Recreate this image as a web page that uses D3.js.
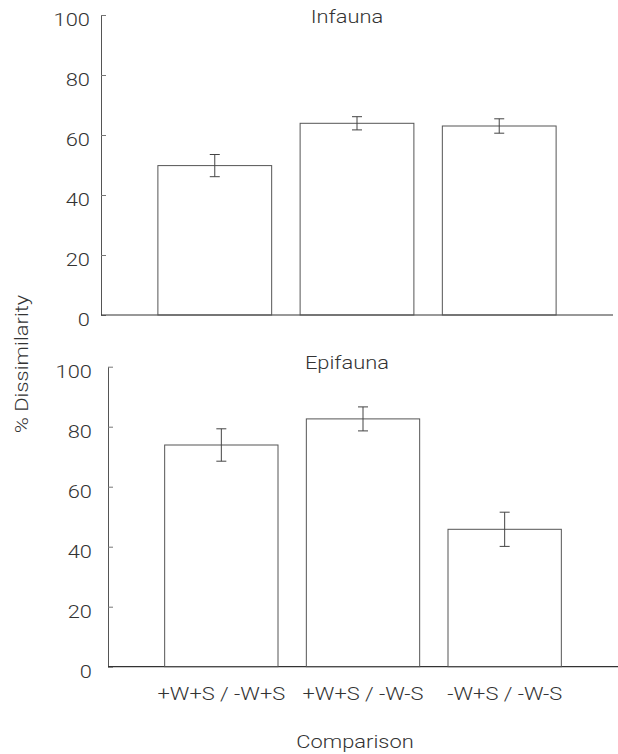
<!DOCTYPE html>
<html>
<head>
<meta charset="utf-8">
<script src="https://cdn.jsdelivr.net/npm/d3@7.9.0/dist/d3.min.js"></script>
<style>
  body { margin: 0; background: #fff; }
  svg text { font-family: Roboto, "Liberation Sans", Arial, sans-serif; font-weight: 300; fill: #333; }
</style>
</head>
<body>
<div id="chart"></div>
<script>
const comparisons = ['+W+S / -W+S', '+W+S / -W-S', '-W+S / -W-S'];
const yTicks = [0, 20, 40, 60, 80, 100];

// mean % dissimilarity and error (half bar)
const infaunaMeans = [49.8, 63.9, 63.0];
const infaunaErr = [3.7, 2.2, 2.4];
const epifaunaMeans = [73.9, 82.6, 45.8];
const epifaunaErr = [5.4, 4.0, 5.7];

const width = 618;
const height = 754;
const stretch = 1.25; // the figure's font is wide

const svg = d3.select('#chart').append('svg')
  .attr('width', width)
  .attr('height', height);

function wideText(g, x, y, txt, rotate) {
  const rot = rotate ? ` rotate(${rotate})` : '';
  return g.append('text')
    .attr('transform', `translate(${x},${y})${rot} scale(${stretch},1)`)
    .attr('text-anchor', 'middle')
    .style('font-size', '17.5px')
    .text(txt);
}

// PANEL
function renderPanel(opts) {
  const { means, errs, title, x0, x1, y0, pad, titleY } = opts;

  const x = d3.scaleBand()
    .domain(comparisons)
    .range([x0, x1])
    .paddingInner(0.2)
    .paddingOuter(0.4);

  const y = d3.scaleLinear()
    .domain([0, 100])
    .range([y0, y0 - 300]);

  const g = svg.append('g');

  const yAxis = g.append('g')
    .attr('transform', `translate(${x0},0)`)
    .call(d3.axisLeft(y).tickValues(yTicks).tickSizeInner(-5).tickSizeOuter(0).tickPadding(pad));
  yAxis.select('.domain').attr('stroke', '#555');
  yAxis.selectAll('.tick line').attr('stroke', '#777');
  yAxis.selectAll('.tick text')
    .attr('fill', '#333')
    .attr('dy', '0.62em')
    .style('font-size', '17.5px')
    .style('font-family', 'Roboto, "Liberation Sans", Arial, sans-serif')
    .style('font-weight', 300)
    .each(function () {
      const t = d3.select(this);
      const tx = +t.attr('x');
      t.attr('x', null)
        .attr('transform', `translate(${tx},0) scale(${stretch},1)`);
    });

  g.append('line')
    .attr('x1', x0).attr('x2', x1)
    .attr('y1', y(0)).attr('y2', y(0))
    .attr('stroke', '#333')
    .attr('stroke-width', 1.2);

  const data = comparisons.map((c, i) => ({ c, v: means[i], e: errs[i] }));

  g.selectAll('rect')
    .data(data)
    .join('rect')
    .attr('x', d => x(d.c))
    .attr('y', d => y(d.v))
    .attr('width', x.bandwidth())
    .attr('height', d => y(0) - y(d.v))
    .attr('fill', 'none')
    .attr('stroke', '#555')
    .attr('stroke-width', 1);

  const eb = g.selectAll('.err')
    .data(data)
    .join('g')
    .attr('class', 'err')
    .attr('stroke', '#444')
    .attr('stroke-width', 1);

  eb.append('line')
    .attr('x1', d => x(d.c) + x.bandwidth() / 2)
    .attr('x2', d => x(d.c) + x.bandwidth() / 2)
    .attr('y1', d => y(d.v + d.e))
    .attr('y2', d => y(d.v - d.e));
  eb.append('line')
    .attr('x1', d => x(d.c) + x.bandwidth() / 2 - 5)
    .attr('x2', d => x(d.c) + x.bandwidth() / 2 + 5)
    .attr('y1', d => y(d.v + d.e))
    .attr('y2', d => y(d.v + d.e));
  eb.append('line')
    .attr('x1', d => x(d.c) + x.bandwidth() / 2 - 5)
    .attr('x2', d => x(d.c) + x.bandwidth() / 2 + 5)
    .attr('y1', d => y(d.v - d.e))
    .attr('y2', d => y(d.v - d.e));

  wideText(g, 347, titleY, title);

  return { g, x, y };
}

renderPanel({
  means: infaunaMeans, errs: infaunaErr, title: 'Infauna',
  x0: 101, x1: 613, y0: 315, pad: 11, titleY: 23
});

const bottom = renderPanel({
  means: epifaunaMeans, errs: epifaunaErr, title: 'Epifauna',
  x0: 108, x1: 618, y0: 666.7, pad: 16, titleY: 368.5
});

// category labels under bottom panel
comparisons.forEach(c => {
  wideText(svg, bottom.x(c) + bottom.x.bandwidth() / 2, 700, c);
});

wideText(svg, 355, 748, 'Comparison');
wideText(svg, 28, 364, '% Dissimilarity', -90);
</script>
</body>
</html>
